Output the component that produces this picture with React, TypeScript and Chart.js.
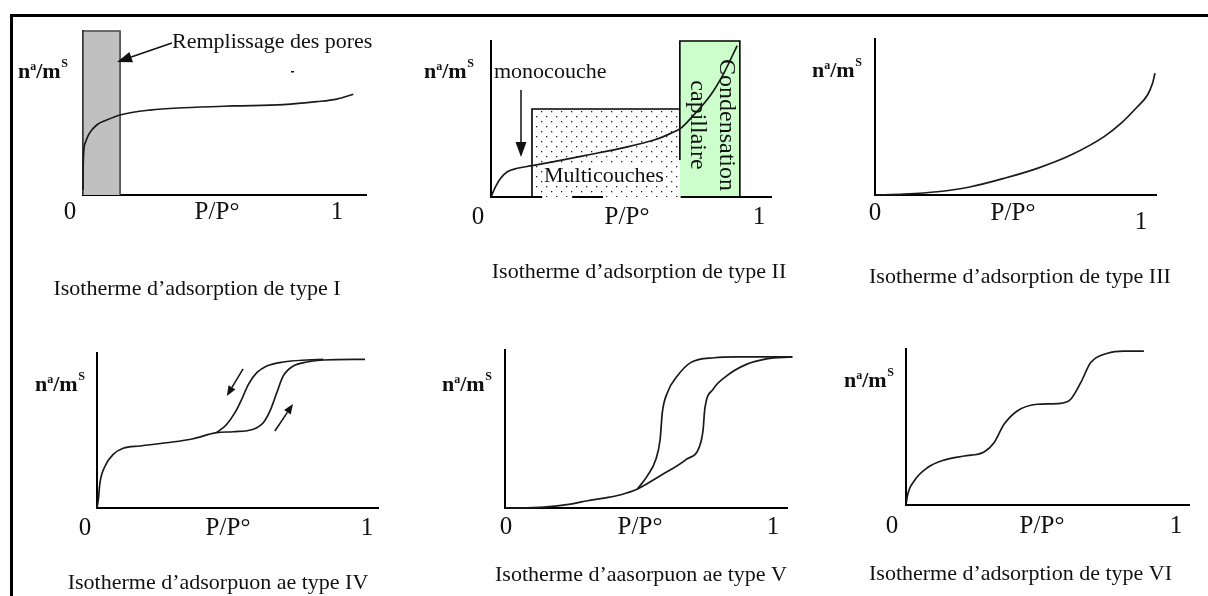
import React, { useEffect, useRef } from "react";
import { Chart, registerables } from "chart.js";
Chart.register(...registerables);

const W = 1208;
const H = 596;
const FONT = '"Liberation Serif", "Times New Roman", serif';

// ---------- Type I ----------
const typeIX = [0, 0.0005, 0.008, 0.025, 0.054, 0.093, 0.146, 0.264, 0.395, 0.592, 0.789, 0.92, 0.999, 1.064];
const typeIY = [0.03, 0.172, 0.315, 0.376, 0.427, 0.457, 0.488, 0.518, 0.532, 0.543, 0.551, 0.569, 0.585, 0.614];
const poreZoneX = [0, 0, 0.146, 0.146];
const poreZoneY = [0, 1, 1, 0];

// ---------- Type II ----------
const typeIIX = [0, 0.017, 0.036, 0.061, 0.098, 0.154, 0.235, 0.359, 0.484, 0.608, 0.671, 0.708, 0.757, 0.82, 0.869, 0.919];
const typeIIY = [0, 0.066, 0.12, 0.162, 0.184, 0.201, 0.227, 0.269, 0.312, 0.365, 0.408, 0.44, 0.526, 0.654, 0.793, 0.971];
const multiZoneX = [0.153, 0.153, 0.705];
const multiZoneY = [0, 0.564, 0.564];
const capZoneX = [0.705, 0.705, 0.929, 0.929];
const capZoneY = [0.237, 1, 1, 0];
const baseIIX = [0, 0.191, 0.25, 0.303, 0.418, 0.5, 0.708, 1.049];
const baseIIY: (number | null)[] = [0, 0, null, 0, 0, null, 0, 0];

// ---------- Type III ----------
const typeIIIX = [0, 0.11, 0.234, 0.36, 0.485, 0.61, 0.736, 0.861, 0.924, 0.986, 1.024, 1.043, 1.052];
const typeIIIY = [0, 0.006, 0.021, 0.053, 0.107, 0.171, 0.256, 0.374, 0.459, 0.566, 0.641, 0.716, 0.78];

// ---------- Type IV ----------
const typeIVAdsX = [0, 0.005, 0.011, 0.03, 0.06, 0.097, 0.159, 0.258, 0.357, 0.443, 0.505, 0.579, 0.616, 0.641, 0.666, 0.69, 0.727, 0.777, 0.838, 0.993];
const typeIVAdsY = [0, 0.056, 0.163, 0.271, 0.346, 0.385, 0.4, 0.421, 0.447, 0.486, 0.492, 0.508, 0.55, 0.626, 0.744, 0.852, 0.916, 0.942, 0.955, 0.959];
const typeIVDesX = [0.443, 0.48, 0.511, 0.536, 0.561, 0.592, 0.629, 0.69, 0.777, 0.838];
const typeIVDesY = [0.486, 0.539, 0.615, 0.701, 0.798, 0.873, 0.916, 0.942, 0.955, 0.959];

// ---------- Type V ----------
const typeVAdsX = [0, 0.146, 0.246, 0.309, 0.371, 0.434, 0.496, 0.58, 0.679, 0.729, 0.742, 0.748, 0.779, 0.829, 0.904, 0.979, 1.076];
const typeVAdsY = [0, 0.006, 0.025, 0.046, 0.063, 0.084, 0.12, 0.203, 0.308, 0.392, 0.498, 0.624, 0.751, 0.835, 0.909, 0.944, 0.956];
const typeVDesX = [0.496, 0.533, 0.565, 0.581, 0.589, 0.608, 0.645, 0.695, 0.783, 0.87, 1.076];
const typeVDesY = [0.12, 0.203, 0.308, 0.435, 0.603, 0.73, 0.835, 0.92, 0.951, 0.956, 0.956];

// ---------- Type VI ----------
const typeVIX = [0.002, 0.005, 0.03, 0.079, 0.141, 0.215, 0.289, 0.326, 0.363, 0.412, 0.486, 0.573, 0.61, 0.647, 0.684, 0.746, 0.807, 0.881];
const typeVIY = [0.02, 0.058, 0.154, 0.239, 0.288, 0.314, 0.34, 0.399, 0.517, 0.603, 0.646, 0.652, 0.678, 0.784, 0.913, 0.973, 0.987, 0.987];

// ---------- labels ----------
const xTickLabels = ["0", "P/P°", "1"];
const captions = [
  "Isotherme d’adsorption de type I",
  "Isotherme d’adsorption de type II",
  "Isotherme d’adsorption de type III",
  "Isotherme d’adsorpuon ae type IV",
  "Isotherme d’aasorpuon ae type V",
  "Isotherme d’adsorption de type VI",
];

type Series = { kind: "curve" | "zone" | "axis"; xs: number[]; ys: (number | null)[]; bg?: string; order: number; bc?: string };
type Txt = { t: string; x: number; y: number; size?: number; align?: CanvasTextAlign; rot?: number; unit?: boolean; box?: boolean };
type Arrow = { x0: number; y0: number; x1: number; y1: number; hl: number; hw: number; lw: number };
type Panel = {
  ox: number; oy: number; x1: number; top: number; xMax: number; xBorder: boolean;
  series: Series[]; texts: Txt[]; arrows: Arrow[]; specks?: number[][];
};

function ticks(cx: number[], y: number[]): Txt[] {
  return xTickLabels.map((t, i) => ({ t, x: cx[i], y: y[i], size: 25 }));
}

const PANELS: Panel[] = [
  {
    ox: 83, oy: 195, x1: 366, top: 31, xMax: 1.114, xBorder: true,
    series: [
      { kind: "zone", xs: poreZoneX, ys: poreZoneY, bg: "#c0c0c0", bc: "#444", order: 10 },
      { kind: "curve", xs: typeIX, ys: typeIY, order: 0 },
    ],
    texts: [
      { t: "", x: 18, y: 78, unit: true },
      { t: "Remplissage des pores", x: 172, y: 42, size: 22, align: "left" },
      ...ticks([70, 217, 337], [212, 212, 212]),
      { t: captions[0], x: 197, y: 289, size: 22 },
    ],
    arrows: [{ x0: 0.35, y0: 0.927, x1: 0.134, y1: 0.811, hl: 15, hw: 11, lw: 1.5 }],
    specks: [[291, 71]],
  },
  {
    ox: 491, oy: 197, x1: 772, top: 41, xMax: 1.049, xBorder: false,
    series: [
      { kind: "zone", xs: multiZoneX, ys: multiZoneY, bg: "dots", order: 20 },
      { kind: "zone", xs: capZoneX, ys: capZoneY, bg: "#ccffcc", order: 15 },
      { kind: "axis", xs: baseIIX, ys: baseIIY, order: 5 },
      { kind: "curve", xs: typeIIX, ys: typeIIY, order: 0 },
    ],
    texts: [
      { t: "", x: 424, y: 78, unit: true },
      { t: "monocouche", x: 494, y: 72, size: 22, align: "left" },
      { t: "Multicouches", x: 544, y: 176, size: 22, align: "left", box: true },
      { t: "Condensation", x: 726, y: 125, size: 24, rot: Math.PI / 2 },
      { t: "capillaire", x: 697, y: 125, size: 24, rot: Math.PI / 2 },
      ...ticks([478, 627, 759], [217, 217, 217]),
      { t: captions[1], x: 639, y: 272, size: 22 },
    ],
    arrows: [{ x0: 0.112, y0: 0.686, x1: 0.112, y1: 0.256, hl: 15, hw: 11, lw: 1.5 }],
  },
  {
    ox: 875, oy: 195, x1: 1156, top: 39, xMax: 1.056, xBorder: true,
    series: [{ kind: "curve", xs: typeIIIX, ys: typeIIIY, order: 0 }],
    texts: [
      { t: "", x: 812, y: 77, unit: true },
      ...ticks([875, 1013, 1141], [213, 213, 222]),
      { t: captions[2], x: 869, y: 277, size: 22, align: "left" },
    ],
    arrows: [],
  },
  {
    ox: 97, oy: 508, x1: 378, top: 353, xMax: 1.041, xBorder: true,
    series: [
      { kind: "curve", xs: typeIVAdsX, ys: typeIVAdsY, order: 0 },
      { kind: "curve", xs: typeIVDesX, ys: typeIVDesY, order: 1 },
    ],
    texts: [
      { t: "", x: 35, y: 391, unit: true },
      ...ticks([85, 228, 367], [528, 528, 528]),
      { t: captions[3], x: 218, y: 583, size: 22 },
    ],
    arrows: [
      { x0: 0.541, y0: 0.897, x1: 0.481, y1: 0.723, hl: 10, hw: 8, lw: 1.5 },
      { x0: 0.659, y0: 0.497, x1: 0.726, y1: 0.671, hl: 10, hw: 8, lw: 1.5 },
    ],
  },
  {
    ox: 505, oy: 508, x1: 787, top: 350, xMax: 1.056, xBorder: true,
    series: [
      { kind: "curve", xs: typeVAdsX, ys: typeVAdsY, order: 0 },
      { kind: "curve", xs: typeVDesX, ys: typeVDesY, order: 1 },
    ],
    texts: [
      { t: "", x: 442, y: 391, unit: true },
      ...ticks([506, 640, 773], [527, 527, 527]),
      { t: captions[4], x: 641, y: 575, size: 22 },
    ],
    arrows: [],
  },
  {
    ox: 906, oy: 505, x1: 1189, top: 349, xMax: 1.048, xBorder: true,
    series: [{ kind: "curve", xs: typeVIX, ys: typeVIY, order: 0 }],
    texts: [
      { t: "", x: 844, y: 387, unit: true },
      ...ticks([892, 1042, 1176], [526, 526, 526]),
      { t: captions[5], x: 869, y: 574, size: 22, align: "left" },
    ],
    arrows: [],
  },
];

function makeDots(): CanvasPattern | string {
  const c = document.createElement("canvas");
  c.width = 10;
  c.height = 10;
  const g = c.getContext("2d");
  if (!g) return "rgba(0,0,0,0.1)";
  g.fillStyle = "#222";
  g.fillRect(1, 1, 1.3, 1.3);
  g.fillRect(6, 6, 1.3, 1.3);
  return g.createPattern(c, "repeat") || "rgba(0,0,0,0.1)";
}

function drawUnit(ctx: CanvasRenderingContext2D, x: number, base: number) {
  ctx.textAlign = "left";
  ctx.textBaseline = "alphabetic";
  let cx = x;
  ctx.font = `bold 22px ${FONT}`;
  ctx.fillText("n", cx, base);
  cx += ctx.measureText("n").width;
  ctx.font = `bold 12px ${FONT}`;
  ctx.fillText("a", cx, base - 8);
  cx += ctx.measureText("a").width;
  ctx.font = `bold 22px ${FONT}`;
  ctx.fillText("/m", cx, base);
  cx += ctx.measureText("/m").width;
  ctx.font = `bold 12px ${FONT}`;
  ctx.fillText("S", cx + 0.5, base - 11);
}

function makeDecor(p: Panel) {
  return {
    id: "decor",
    afterDatasetsDraw(chart: any) {
      const ctx: CanvasRenderingContext2D = chart.ctx;
      const xs = chart.scales.x;
      const ys = chart.scales.y;
      ctx.save();
      ctx.fillStyle = "#111";
      ctx.strokeStyle = "#111";
      for (const a of p.arrows) {
        const X0 = xs.getPixelForValue(a.x0);
        const Y0 = ys.getPixelForValue(a.y0);
        const X1 = xs.getPixelForValue(a.x1);
        const Y1 = ys.getPixelForValue(a.y1);
        const ang = Math.atan2(Y1 - Y0, X1 - X0);
        const bx = X1 - a.hl * Math.cos(ang);
        const by = Y1 - a.hl * Math.sin(ang);
        ctx.lineWidth = a.lw;
        ctx.beginPath();
        ctx.moveTo(X0, Y0);
        ctx.lineTo(bx, by);
        ctx.stroke();
        ctx.beginPath();
        ctx.moveTo(X1, Y1);
        ctx.lineTo(bx + (a.hw / 2) * Math.sin(ang), by - (a.hw / 2) * Math.cos(ang));
        ctx.lineTo(bx - (a.hw / 2) * Math.sin(ang), by + (a.hw / 2) * Math.cos(ang));
        ctx.closePath();
        ctx.fill();
      }
      for (const s of p.specks || []) ctx.fillRect(s[0], s[1], 3, 1.5);
      for (const t of p.texts) {
        if (t.unit) {
          drawUnit(ctx, t.x, t.y);
          continue;
        }
        ctx.font = `${t.size || 22}px ${FONT}`;
        ctx.textAlign = t.align || "center";
        ctx.textBaseline = "middle";
        if (t.box) {
          const w = ctx.measureText(t.t).width;
          ctx.save();
          ctx.fillStyle = "#fff";
          ctx.fillRect(t.x - 1, t.y - 10, w + 2, 19);
          ctx.restore();
        }
        if (t.rot) {
          ctx.save();
          ctx.translate(t.x, t.y);
          ctx.rotate(t.rot);
          ctx.fillText(t.t, 0, 0);
          ctx.restore();
        } else {
          ctx.fillText(t.t, t.x, t.y);
        }
      }
      ctx.restore();
    },
  };
}

function buildConfig(p: Panel, dots: CanvasPattern | string): any {
  const datasets = p.series.map((s) => {
    const base: any = {
      data: s.xs.map((x, j) => ({ x, y: s.ys[j] })),
      pointRadius: 0,
      pointHoverRadius: 0,
      clip: false,
      order: s.order,
      spanGaps: false,
    };
    if (s.kind === "curve")
      return { ...base, borderColor: "#1a1a1a", borderWidth: 1.7, cubicInterpolationMode: "monotone", fill: false };
    if (s.kind === "zone")
      return {
        ...base,
        borderColor: s.bc || "#000",
        borderWidth: 1.6,
        tension: 0,
        fill: "origin",
        backgroundColor: s.bg === "dots" ? dots : s.bg,
      };
    return { ...base, borderColor: "#000", borderWidth: 2, tension: 0, fill: false };
  });
  const axisCommon = {
    type: "linear",
    grid: { display: false, drawTicks: false },
    ticks: { display: false },
    title: { display: false },
  };
  return {
    type: "line",
    data: { datasets },
    plugins: [makeDecor(p)],
    options: {
      responsive: false,
      animation: false,
      events: [],
      devicePixelRatio: 1,
      layout: { padding: { left: p.ox, top: p.top, right: W - p.x1, bottom: H - p.oy } },
      plugins: { legend: { display: false }, tooltip: { enabled: false }, title: { display: false } },
      scales: {
        x: { ...axisCommon, min: 0, max: p.xMax, border: { display: p.xBorder, color: "#000", width: 2 } },
        y: { ...axisCommon, min: 0, max: 1, border: { display: true, color: "#000", width: 2 } },
      },
    },
  };
}

export default function App() {
  const refs = useRef<(HTMLCanvasElement | null)[]>([]);
  useEffect(() => {
    const dots = makeDots();
    const charts = PANELS.map((p, i) => new Chart(refs.current[i] as HTMLCanvasElement, buildConfig(p, dots)));
    return () => charts.forEach((c) => c.destroy());
  }, []);
  return (
    <div style={{ position: "absolute", left: 0, top: 0, width: W, height: H, overflow: "hidden", background: "#fff" }}>
      <div
        style={{
          position: "absolute",
          left: 10,
          top: 14,
          width: W,
          height: H,
          borderLeft: "3px solid #000",
          borderTop: "3px solid #000",
        }}
      />
      {PANELS.map((_, i) => (
        <canvas
          key={i}
          ref={(el) => {
            refs.current[i] = el;
          }}
          width={W}
          height={H}
          style={{ position: "absolute", left: 0, top: 0 }}
        />
      ))}
    </div>
  );
}
